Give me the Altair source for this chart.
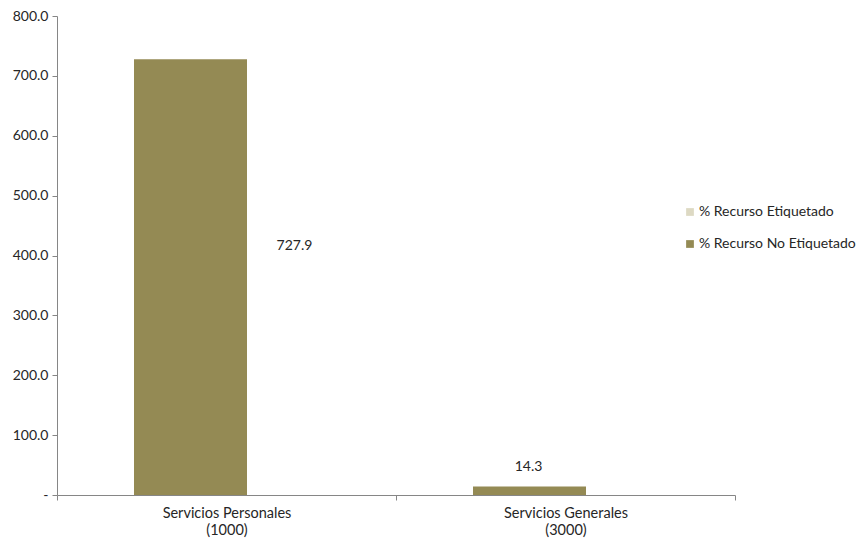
import altair as alt
import pandas as pd

categories = ["Servicios Personales|(1000)", "Servicios Generales|(3000)"]
series = ["% Recurso Etiquetado", "% Recurso No Etiquetado"]
etiquetado = [0.0, 0.0]
no_etiquetado = [727.9, 14.3]
y_ticks = [0, 100, 200, 300, 400, 500, 600, 700, 800]
colors = ["#DDD9C3", "#948A54"]

rows = []
for i, c in enumerate(categories):
    rows.append({"cat": c, "serie": series[0], "value": etiquetado[i], "ord": 0})
    rows.append({"cat": c, "serie": series[1], "value": no_etiquetado[i], "ord": 1})
df = pd.DataFrame(rows)
lab = df[df["serie"] == series[1]]

FONT = "Lato"
TXT = "#262626"
AX = "#868686"

xscale = alt.Scale(paddingInner=0, paddingOuter=0)
x = alt.X("cat:N", sort=categories, title=None, scale=xscale,
          axis=alt.Axis(labelAngle=0, labelExpr="split(datum.label, '|')",
                        tickBand="extent", domainColor=AX, tickColor=AX,
                        labelFont=FONT, labelFontSize=14.5, labelColor=TXT,
                        labelPadding=6, tickSize=5, labelLineHeight=17))

bars = alt.Chart(df).mark_bar(xOffset=-36, width=113).encode(
    x=x,
    y=alt.Y("value:Q", stack="zero", title=None,
            scale=alt.Scale(domain=[0, 800]),
            axis=alt.Axis(values=y_ticks, grid=False, labelOverlap=False, labelFlush=False,
                          labelExpr="datum.value == 0 ? '-' : format(datum.value, '.1f')",
                          domainColor=AX, tickColor=AX, tickSize=5,
                          labelFont=FONT, labelFontSize=14, labelColor=TXT,
                          labelPadding=4)),
    color=alt.Color("serie:N", sort=series,
                    scale=alt.Scale(domain=series, range=colors),
                    legend=alt.Legend(title=None, orient="none", legendX=626, legendY=189,
                                      symbolType="square", symbolSize=60, symbolStrokeWidth=0,
                                      labelFont=FONT, labelFontSize=14, labelColor=TXT,
                                      labelLimit=0, rowPadding=18, labelOffset=2)),
    order=alt.Order("ord:Q"),
)

big = alt.Chart(lab).transform_filter("datum.value > 100").mark_text(
    font=FONT, fontSize=14, color=TXT, dx=68, dy=187
).encode(x=alt.X("cat:N", sort=categories, scale=xscale), y="value:Q",
         text=alt.Text("value:Q", format=".1f"))

small = alt.Chart(lab).transform_filter("datum.value <= 100").mark_text(
    font=FONT, fontSize=14, color=TXT, dx=-37, dy=-19
).encode(x=alt.X("cat:N", sort=categories, scale=xscale), y="value:Q",
         text=alt.Text("value:Q", format=".1f"))

chart = alt.layer(bars, big, small).properties(
    width=678, height=479,
    autosize=alt.AutoSizeParams(type="none"),
    padding={"left": 49, "top": 8, "right": 121, "bottom": 44},
).configure(background="white").configure_view(stroke=None, strokeWidth=0)

chart.save("out.html", embed_options={"renderer": "svg", "actions": False})
